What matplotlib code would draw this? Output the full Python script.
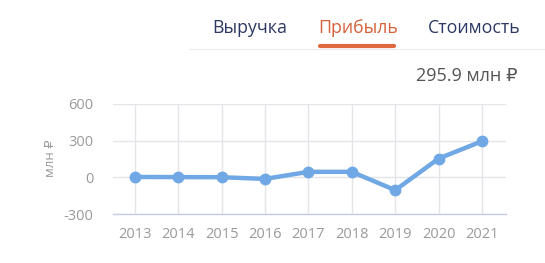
import matplotlib
matplotlib.use("Agg")
import matplotlib.pyplot as plt
from matplotlib.lines import Line2D

# data
YEARS = [2013, 2014, 2015, 2016, 2017, 2018, 2019, 2020, 2021]
PROFIT = [3, 2, 1, -13, 45, 45, -105, 154, 295.9]
Y_TICKS = [-300, 0, 300, 600]
TABS = ["Выручка", "Прибыль", "Стоимость"]
CURRENT = "295.9 млн ₽"
Y_LABEL = "млн ₽"

plt.rcParams["font.family"] = ["Open Sans", "DejaVu Sans"]
plt.rcParams["axes.unicode_minus"] = False

W, H = 545, 263
fig = plt.figure(figsize=(W / 100, H / 100), dpi=100)
fig.patch.set_facecolor("white")

# tabs
tab_x = [212, 318, 428]
tab_colors = ["#2c3863", "#d5613a", "#2c3863"]
for name, x, c in zip(TABS, tab_x, tab_colors):
    fig.text(x / W, 1 - 28 / H, name, color=c, fontsize=12.8, ha="left", va="center")
fig.add_artist(Line2D([190 / W, 1.0], [1 - 49 / H] * 2, color="#ececec", lw=0.8))
fig.add_artist(Line2D([320 / W, 394 / W], [1 - 46 / H] * 2, color="#e0683f",
                      lw=3, solid_capstyle="round"))
fig.text(518 / W, 1 - 76 / H, CURRENT, color="#555555", fontsize=13,
         ha="right", va="center")

ax = fig.add_axes([113 / W, 1 - 214 / H, (506 - 113) / W, (214 - 104) / H])
ax.plot(YEARS, PROFIT, color="#6fa8e4", lw=3.2, marker="o", markersize=7.5,
        solid_joinstyle="round", zorder=3, clip_on=False)
ax.set_xlim(2012.5, 2021.55)
ax.set_ylim(-300, 600)
ax.set_xticks(YEARS)
ax.set_yticks(Y_TICKS)
ax.grid(True, color="#e3e5ea", lw=1)
ax.set_axisbelow(True)
for s in ["top", "right", "left"]:
    ax.spines[s].set_visible(False)
ax.spines["bottom"].set_color("#c7cde0")
ax.spines["bottom"].set_linewidth(1)
ax.tick_params(length=0, labelsize=10.5, labelcolor="#9a9a9a")
ax.tick_params(axis="x", pad=9)
ax.tick_params(axis="y", pad=14)
fig.text(50 / W, 1 - 158 / H, Y_LABEL, rotation=90, color="#9a9a9a",
         fontsize=9.5, ha="center", va="center")

fig.savefig("out.png", dpi=100, facecolor="white")
